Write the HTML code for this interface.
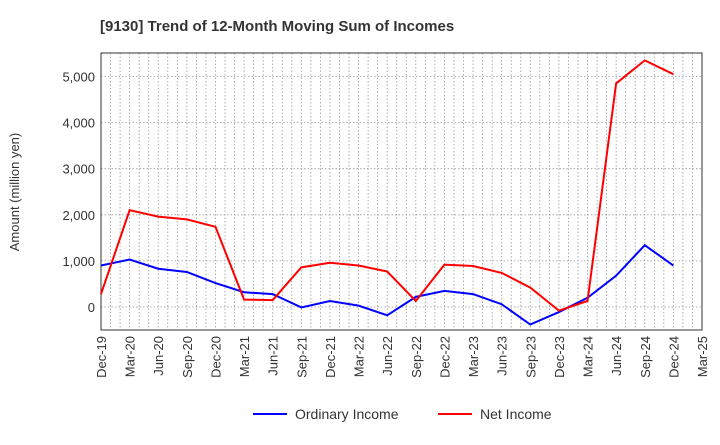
<!DOCTYPE html>
<html><head><meta charset="utf-8"><style>
body{margin:0;background:#fff;font-family:"Liberation Sans",sans-serif;}
</style></head><body>
<svg id="c" width="720" height="440" xmlns="http://www.w3.org/2000/svg">
<text x="100" y="31" font-size="15" font-weight="bold" fill="#333">[9130]  Trend of 12-Month Moving Sum of Incomes</text>
<g id="grid"></g><g id="axes"></g><g id="series"></g>
<text transform="translate(19,192) rotate(-90)" text-anchor="middle" font-size="13" fill="#333">Amount (million yen)</text>
<g>
<line x1="253" y1="414" x2="287" y2="414" stroke="#0000ff" stroke-width="2"/>
<text x="295" y="419" font-size="14" fill="#333">Ordinary Income</text>
<line x1="438" y1="414" x2="472" y2="414" stroke="#ff0000" stroke-width="2"/>
<text x="480" y="419" font-size="14" fill="#333">Net Income</text>
</g>
</svg>
<script>
const xLabels=["Dec-19","Mar-20","Jun-20","Sep-20","Dec-20","Mar-21","Jun-21","Sep-21","Dec-21","Mar-22","Jun-22","Sep-22","Dec-22","Mar-23","Jun-23","Sep-23","Dec-23","Mar-24","Jun-24","Sep-24","Dec-24","Mar-25"];
const yTicks=[0,1000,2000,3000,4000,5000];
const ordinary=[900,1030,830,760,520,320,280,-10,130,30,-180,220,350,280,60,-380,-110,200,680,1340,900];
const netIncome=[280,2100,1960,1900,1740,160,150,860,960,900,770,130,920,890,740,420,-80,130,4850,5350,5050];
const L=101,R=702,T=53,B=330;
const x=i=>L+i*(R-L)/21;
const y=v=>307-v*0.0461;
const ns="http://www.w3.org/2000/svg";
function mk(tag,attrs,parent,txt){const e=document.createElementNS(ns,tag);for(const k in attrs)e.setAttribute(k,attrs[k]);if(txt!==undefined)e.textContent=txt;document.getElementById(parent).appendChild(e);return e;}
for(let m=1;m<63;m++){const gx=L+m*(R-L)/63;const e=mk('line',{x1:gx,x2:gx,y1:T,y2:B,stroke:'#999','stroke-dasharray':'1.5,2','stroke-width':0.8},'grid');

}
yTicks.forEach(v=>{const e=mk('line',{x1:L,x2:R,y1:y(v),y2:y(v),stroke:'#999','stroke-dasharray':'1.5,2','stroke-width':0.8},'grid');


const t=mk('text',{x:L-6,y:y(v)+5,'text-anchor':'end','font-size':13,fill:'#333'},'axes',v.toLocaleString('en-US'));

});
const fr=mk('rect',{x:L,y:T,width:R-L,height:B-T,fill:'none',stroke:'#333','stroke-width':1},'axes');


xLabels.forEach((l,i)=>{const t=mk('text',{transform:`translate(${x(i)+5},${B+6}) rotate(-90)`,'text-anchor':'end','font-size':13,fill:'#333'},'axes',l);

});
function line(d,col,name){const p=mk('polyline',{points:d.map((v,i)=>x(i)+','+y(v)).join(' '),fill:'none',stroke:col,'stroke-width':2},'series');

}
line(ordinary,'#0000ff','ordinary-income-line');
line(netIncome,'#ff0000','net-income-line');
</script>
</body></html>
